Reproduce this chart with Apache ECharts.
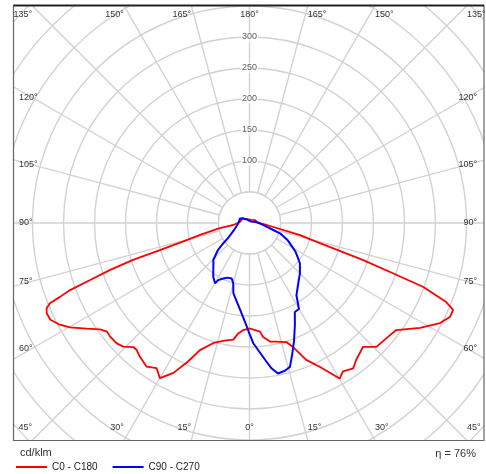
<!DOCTYPE html>
<html>
<head>
<meta charset="utf-8">
<script src="https://cdn.jsdelivr.net/npm/echarts@6/dist/echarts.min.js"></script>
<style>html,body{margin:0;padding:0;background:#fff}#c{width:486px;height:474px}</style>
</head>
<body>
<div id="c"></div>
<script>
// ---- Data (cd/klm vs gamma angle in degrees, 0 = straight down) ----
const redRightG = [0,5.5,6.8,9.8,12.7,17.2,19.3,20.1,22.5,26,30.1,32.2,35.5,37.9,42.5,45.7,51.4,53.9,58.4,62.3,64.9,66.9,68.1,69.8,70.7,71.9,74.8,76.6,83.4,90,118.6,150,180];
const redRightI = [170,176,185,194,196,201,212,218,239,258,290,283,288,280,271,286,290,293,323,347,357,357,342,298,245,193,105,84,28,14,10,6,5];
const redLeftG  = [0,3.3,5.8,7.9,12,16.7,21.3,24,26.9,30,32.6,35.6,39.3,41.6,43.1,45.6,47.8,50.8,52.7,54.6,57,59.8,62,64.1,66,67.2,68.1,68.7,69.5,70.3,71.4,72.4,73.2,74.8,76.4,80,83,90,98,121,150,180];
const redLeftI  = [170,173,179,190,194,202,220,245,271,289,278,285,279,274,274,285,289,290,289,296,313,335,348,357,358,355,347,328,309,273,237,197,151,105,82,50,26,16,15,14,7,5];
const blueRightG = [0,1.8,6.5,8.6,10.7,13.5,15.7,18.1,20.6,24,27,29.9,33,39,45,51.4,56,58.2,66,71.3,73.6,77.9,88.4,100,109,120,150,180];
const blueRightI = [179,194,222,237,247,245,241,222,204,180,161,160,139,125,115,104,92,87,67,52,40,28,17,10,6.5,4,3,3];
const blueLeftG  = [0,1.5,6.3,13,15,17.8,22,25.3,28.7,29.8,34,39.6,42,44.4,49.4,52,55,63.7,75,88.5,105,116,127,140,160,180];
const blueLeftI  = [179,167,140,116,101,94,95,99,105,112,104.5,91.5,87,83.5,67,55,42,29,22,18,18,17,12.5,8,5,3];
const radiusTicks = [100,150,200,250,300];
const angleTicks = [0,15,30,45,60,75,90,105,120,135,150,165,180];
const seriesNames = ['C0 - C180','C90 - C270'];
const unitLabel = 'cd/klm';
const effLabel = 'η = 76%';

// ---- Layout ----
const CX = 249.5, CY = 223, PX = 0.62, RMAX = 540;
const BOX = {l:13.5, t:5.5, r:484, b:440.5};
const GRID = '#d2d2d2';
const FONT = 'Liberation Sans, Arial, sans-serif';

function loop(rg, ri, lg, li){
  const out = [];
  for (let i=0;i<rg.length;i++) out.push([ri[i], 180 - rg[i]]);
  for (let i=lg.length-1;i>=0;i--) out.push([li[i], 180 + lg[i]]);
  out.push(out[0]);
  return out;
}

// angle labels at the frame
const angleLabels = [];
angleTicks.forEach(g => {
  const sides = (g===0||g===180) ? [0] : [-1,1];
  sides.forEach(s => {
    const phi = (s>0 ? 180-g : 180+g) * Math.PI/180;
    const ux = Math.sin(phi), uy = -Math.cos(phi);
    let x, y, align, va='middle';
    if (g <= 45) {
      const t = (BOX.b - CY)/uy; x = CX + ux*t; y = 428;
      align = s===0 ? 'center' : (s<0 ? 'right':'left');
    } else if (g >= 135) {
      const t = (BOX.t - CY)/uy; x = CX + ux*t; y = 14.5;
      align = s===0 ? 'center' : (s<0 ? 'right':'left');
    } else {
      const t = 218/Math.abs(ux); y = CY + uy*t;
      x = s<0 ? 19 : 477; align = s<0 ? 'left':'right';
    }
    angleLabels.push({type:'text', z:12, silent:true,
      style:{text: g+'°', x:x, y:y, align:align, verticalAlign:va, font:'9px '+FONT, fill:'#333'}});
  });
});

const chart = echarts.init(document.getElementById('c'), null, {renderer:'canvas'});
chart.setOption({
  animation:false,
  backgroundColor:'#fff',
  polar:{center:[CX,CY], radius:RMAX*PX},
  angleAxis:{type:'value', min:0, max:360, interval:15, startAngle:90, clockwise:true, z:0,
    axisLine:{show:false}, axisTick:{show:false}, axisLabel:{show:false},
    splitLine:{show:true, lineStyle:{color:GRID, width:1.4}}},
  radiusAxis:{type:'value', min:0, max:RMAX, interval:50, z:0,
    axisLine:{show:false}, axisTick:{show:false}, axisLabel:{show:false},
    splitLine:{show:true, lineStyle:{color:GRID, width:1.4}}},
  legend:{data:seriesNames, left:16, top:462, padding:0, icon:'rect', itemWidth:31, itemHeight:2, itemGap:15, z:20,
    textStyle:{fontSize:10, color:'#222', fontFamily:FONT}},
  series:[
    {type:'line', name:seriesNames[0], coordinateSystem:'polar', data:loop(redRightG,redRightI,redLeftG,redLeftI),
      symbol:'none', smooth:false, lineStyle:{color:'#ff0000', width:1.8}, itemStyle:{color:'#ff0000'}, z:3},
    {type:'line', name:seriesNames[1], coordinateSystem:'polar', data:loop(blueRightG,blueRightI,blueLeftG,blueLeftI),
      symbol:'none', smooth:false, lineStyle:{color:'#0000ff', width:2}, itemStyle:{color:'#0000ff'}, z:4},
    {type:'scatter', coordinateSystem:'polar', data:radiusTicks.map(v=>[v,0]), symbolSize:0.1,
      itemStyle:{color:'rgba(0,0,0,0)'}, silent:true, z:5,
      label:{show:true, position:'inside', formatter:p=>String(p.value[0]), fontSize:9, fontFamily:FONT, color:'#333',
        backgroundColor:'#fff', padding:[0,1]}}
  ],
  graphic:[
    {type:'circle', z:1, silent:true, shape:{cx:CX, cy:CY, r:50*PX}, style:{fill:'#fff', stroke:GRID, lineWidth:1.4}},
    {type:'rect', z:10, silent:true, shape:{x:0,y:0,width:486,height:BOX.t}, style:{fill:'#fff'}},
    {type:'rect', z:10, silent:true, shape:{x:0,y:BOX.b,width:486,height:474-BOX.b}, style:{fill:'#fff'}},
    {type:'rect', z:10, silent:true, shape:{x:0,y:0,width:BOX.l,height:474}, style:{fill:'#fff'}},
    {type:'rect', z:10, silent:true, shape:{x:BOX.r,y:0,width:486-BOX.r,height:474}, style:{fill:'#fff'}},
    {type:'rect', z:11, silent:true, shape:{x:BOX.l,y:BOX.t,width:BOX.r-BOX.l,height:BOX.b-BOX.t}, style:{fill:null, stroke:'#666', lineWidth:1.2}},
    {type:'line', z:11, silent:true, shape:{x1:BOX.l,y1:BOX.t,x2:BOX.r,y2:BOX.t}, style:{stroke:'#222', lineWidth:2}},
    {type:'text', z:20, silent:true, style:{text:unitLabel, x:20, y:453, verticalAlign:'middle', font:'11px '+FONT, fill:'#333'}},
    {type:'text', z:20, silent:true, style:{text:effLabel, x:476, y:454, align:'right', verticalAlign:'middle', font:'11px '+FONT, fill:'#333'}}
  ].concat(angleLabels)
});
</script>
</body>
</html>
